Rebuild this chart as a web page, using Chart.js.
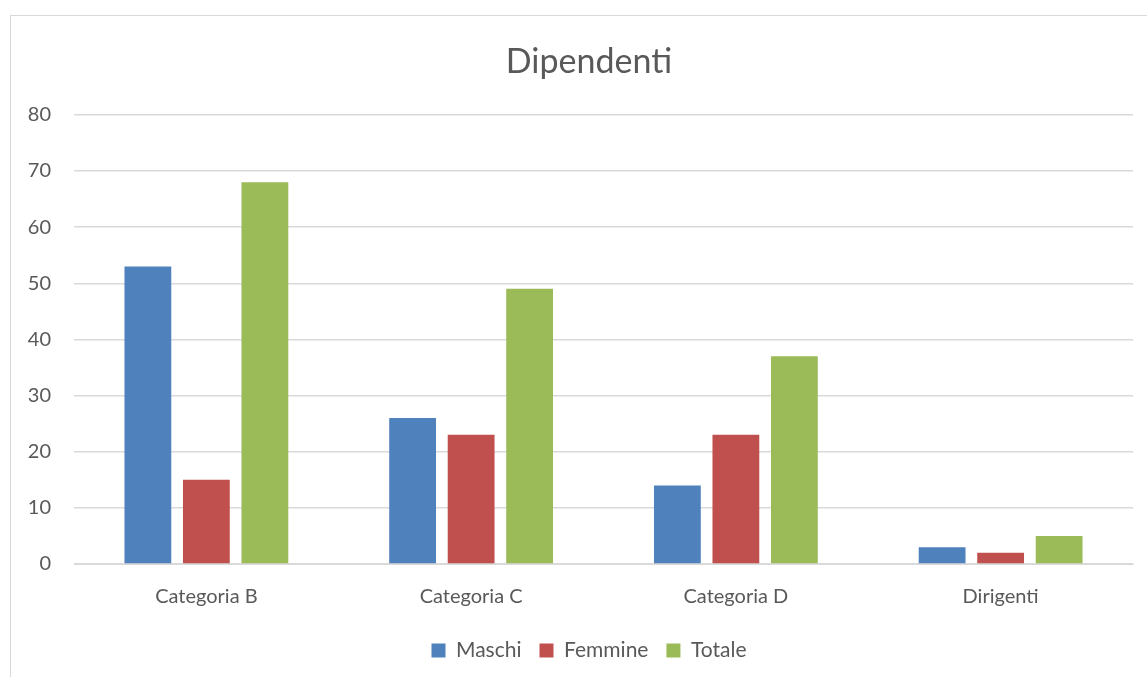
<!DOCTYPE html>
<html>
<head>
<meta charset="utf-8">
<script src="https://cdn.jsdelivr.net/npm/chart.js@4"></script>
<style>
  html, body { margin: 0; padding: 0; background: #fff; overflow: hidden; }
  #box {
    position: absolute; left: 10px; top: 15px;
    width: 1145px; height: 670px;
    border: 1px solid #d9d9d9; box-sizing: border-box;
  }
  #chart { display: block; }
</style>
</head>
<body>
<div id="box"><canvas id="chart" width="1143" height="668"></canvas></div>
<script>
const categorie = ["Categoria B", "Categoria C", "Categoria D", "Dirigenti"];
const maschi = [53, 26, 14, 3];
const femmine = [15, 23, 23, 2];
const totale = [68, 49, 37, 5];

const testo = "#595959";
const font = "Lato, 'Open Sans', sans-serif";

new Chart(document.getElementById("chart"), {
  type: "bar",
  data: {
    labels: categorie,
    datasets: [
      { label: "Maschi", data: maschi, backgroundColor: "#4F81BD" },
      { label: "Femmine", data: femmine, backgroundColor: "#C0504D" },
      { label: "Totale", data: totale, backgroundColor: "#9BBB59" }
    ]
  },
  options: {
    responsive: false,
    animation: false,
    datasets: { bar: { barPercentage: 0.8, categoryPercentage: 0.663 } },
    layout: { padding: { left: 34, right: 21, top: 10, bottom: 13 } },
    plugins: {
      title: {
        display: true,
        text: "Dipendenti",
        color: testo,
        font: { family: font, size: 34, weight: "normal" },
        padding: { top: 16, bottom: 32 }
      },
      legend: {
        position: "bottom",
        labels: {
          color: testo,
          font: { family: font, size: 21 },
          boxWidth: 14, boxHeight: 14,
          padding: 18
        }
      },
      tooltip: { enabled: false }
    },
    scales: {
      x: {
        grid: { display: false },
        border: { color: "#d9d9d9", width: 1 },
        ticks: { color: testo, font: { family: font, size: 20 }, padding: 13 }
      },
      y: {
        min: 0, max: 80,
        // asse stretto: le etichette escono a sinistra, quindi niente clip
        afterFit: function (scale) {
          scale.width = 29;
          scale._computeLabelArea = function () { return undefined; };
        },
        ticks: { stepSize: 10, color: testo, font: { family: font, size: 20 }, padding: 23 },
        grid: { color: "#d9d9d9", lineWidth: 1.5, drawTicks: false },
        border: { display: false }
      }
    }
  }
});
</script>
</body>
</html>
